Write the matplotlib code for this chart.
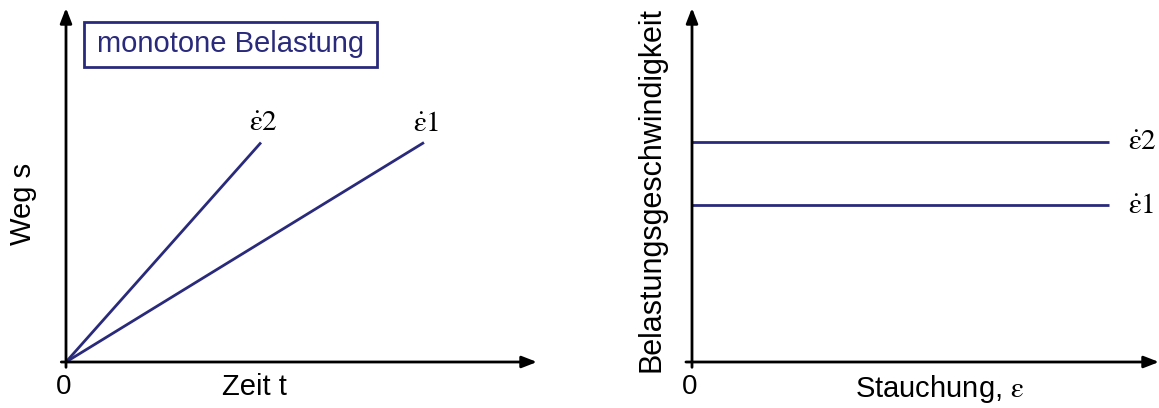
import matplotlib
matplotlib.use("Agg")
import matplotlib.pyplot as plt
from matplotlib.patches import Rectangle

plt.rcParams["font.family"] = ["Liberation Sans", "DejaVu Sans"]
plt.rcParams["mathtext.fontset"] = "stix"

NAVY = "#2a2a7c"

# Weg-Zeit-Verlauf bei monotoner Belastung (Endpunkte der Geraden)
t_end = [7.6, 4.14]          # eps1, eps2
s_end = [6.2, 6.2]
rate_names = [r"$\dot{\mathrm{\varepsilon}}\mathrm{1}$", r"$\dot{\mathrm{\varepsilon}}\mathrm{2}$"]

# Belastungsgeschwindigkeit über der Stauchung
eps_end = 8.93
rate_level = [4.44, 6.21]    # eps1, eps2

W, H = 1159, 408
fig = plt.figure(figsize=(W / 100, H / 100), dpi=100)


def make_axes(x0, y0, x1, y1):
    # pixel box -> axes with data range 0..10 in both directions
    ax = fig.add_axes([x0 / W, 1 - y0 / H, (x1 - x0) / W, (y0 - y1) / H])
    ax.set_xlim(0, 10)
    ax.set_ylim(0, 10)
    ax.axis("off")
    return ax


def draw_arrows(ax, x_start):
    arrow = dict(arrowstyle="-|>,head_length=0.9,head_width=0.35", color="black",
                 lw=2, shrinkA=0, shrinkB=0)
    ax.annotate("", xy=(10, 0), xytext=(x_start, 0), arrowprops=arrow,
                annotation_clip=False)
    ax.annotate("", xy=(0, 10), xytext=(0, -0.15), arrowprops=arrow,
                annotation_clip=False)


# linkes Diagramm
ax1 = make_axes(66, 362, 537, 8)
draw_arrows(ax1, -0.1)
for t, s, name in zip(t_end, s_end, rate_names):
    ax1.plot([0, t], [0, s], color=NAVY, lw=2, solid_capstyle="butt", clip_on=False)
    ax1.text(t + 0.04, s + 0.15, name, fontsize=21, ha="center", va="bottom")

ax1.add_patch(Rectangle((0.38, 8.33), 6.22, 1.27, fill=False, ec=NAVY, lw=2,
                        clip_on=False))
ax1.text(3.49, 8.97, "monotone Belastung", fontsize=21, color=NAVY,
         ha="center", va="center")
ax1.text(-0.06, -0.35, "0", fontsize=20, ha="center", va="top")
ax1.text(4.0, -0.3, "Zeit t", fontsize=21, ha="center", va="top")
ax1.text(-0.91, 4.46, "Weg s", fontsize=21, ha="center", va="center", rotation=90)

# rechtes Diagramm
ax2 = make_axes(692, 362, 1159, 8)
draw_arrows(ax2, -0.13)
for lvl, name in zip(rate_level, rate_names):
    ax2.plot([0, eps_end], [lvl, lvl], color=NAVY, lw=2, solid_capstyle="butt")
    ax2.text(eps_end + 0.4, lvl, name, fontsize=21, ha="left", va="center")

ax2.text(-0.06, -0.35, "0", fontsize=20, ha="center", va="top")
ax2.text(5.3, -0.3, r"Stauchung, $\mathrm{\varepsilon}$", fontsize=21,
         ha="center", va="top")
ax2.text(-0.86, 4.86, "Belastungsgeschwindigkeit", fontsize=22,
         ha="center", va="center", rotation=90)

fig.savefig("out.png", dpi=100, facecolor="white")
